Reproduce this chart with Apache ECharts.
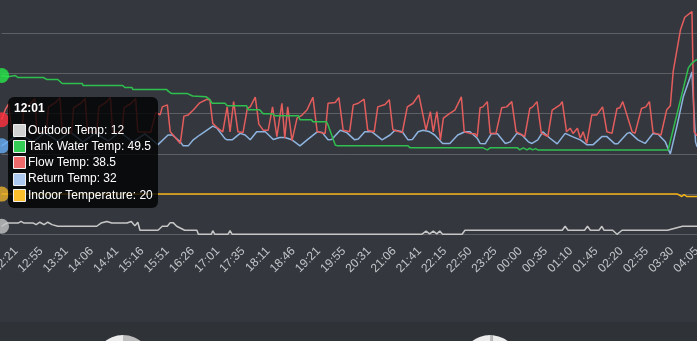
<!DOCTYPE html>
<html>
<head>
<meta charset="utf-8">
<script src="https://cdn.jsdelivr.net/npm/echarts@6.0.0/dist/echarts.min.js"></script>
<style>
  html, body { margin: 0; padding: 0; width: 697px; height: 341px; overflow: hidden;
    background: linear-gradient(#34383e 0, #34383e 322px, #2f3237 322px); }
  #chart { width: 697px; height: 341px; }
</style>
</head>
<body>
<div id="chart"></div>
<script>
// Heating log: one sample per minute starting at 12:01.
const startTime = '12:01';
const firstTickSample = 20;   // sample index of the first labelled tick
const tickStep = 35;          // samples between labelled ticks
const lastSample = 965;

const tickLabels = ['12:21','12:55','13:31','14:06','14:41','15:16','15:51','16:26','17:01','17:35',
  '18:11','18:46','19:21','19:55','20:31','21:06','21:41','22:15','22:50','23:25',
  '00:00','00:35','01:10','01:45','02:20','02:55','03:30','04:05'];

// [sample, °C]
const outdoorTemp = [[0,12],[7,12.8],[23,12.8],[27,13.2],[31,12.8],[44,12.8],[48,12.4],[53,13],[59,12.4],[64,13],
  [70,12.4],[78,12],[132,12],[138,12.8],[146,13.2],[153,12.8],[174,12.8],[180,13.2],[185,12.1],[189,13],
  [192,11],[217,11],[223,12],[230,12],[234,12.9],[238,12.9],[243,12],[254,11],[271,11],[273,10],
  [291,10],[293,10.9],[296,10],[314,10],[317,10.9],[320,10],[583,10],[589,10.8],[594,10.1],[599,10.8],
  [604,10.1],[608,10.8],[612,10],[639,10],[643,11],[778,11],[782,12],[786,11],[809,11],[813,12],
  [817,11],[829,11],[833,12],[836,11],[848,11],[854,10],[861,11],[924,11],[945,12],[965,12]];

const tankTemp = [[0,49.5],[9,49.2],[19,49.5],[23,49],[58,49],[63,48.5],[78,48.5],[84,47.5],[112,47.5],[113,47],
  [168,47],[171,46.5],[181,46.5],[182,46],[229,46],[232,45.5],[236,45],[258,45],[265,44.4],[284,44.2],
  [289,43.5],[292,42.6],[310,42.6],[313,42],[340,42],[342,41],[358,41],[363,40],[376,40],[379,39.5],
  [412,39.5],[414,38.5],[430,38.5],[432,38],[451,38],[453,37.2],[463,32.2],[466,32],[564,32],[567,31.5],
  [668,31.5],[674,31],[678,31.5],[716,31.5],[719,31],[724,31.5],[729,31],[733,31.4],[737,31],[741,31.3],
  [744,31],[925,31],[953,51.4],[958,52.6],[965,53.5]];

const flowTemp = [[0,38.5],[5,41],[10,42.5],[14,35.5],[28,35.3],[31,41.5],[40,42.5],[46,43.8],[49,35.5],[62,35.3],
  [65,41.7],[75,42.8],[81,44],[84,35.5],[97,35.2],[100,41.5],[110,42.6],[116,43.8],[119,35.5],[132,35.3],
  [135,41.7],[145,42.8],[151,44],[154,35.5],[167,35.3],[170,41.5],[180,42.6],[186,43.8],[189,35.5],[207,35.4],
  [214,40.3],[216,40.5],[220,39.7],[223,41.7],[230,42.2],[234,35.5],[238,34.7],[248,32.6],[253,39.4],[259,39.7],
  [266,40.9],[275,42.7],[285,43.6],[289,43.4],[293,37.6],[300,36.4],[307,35.5],[313,41.7],[317,35.5],[322,43],
  [328,35.5],[335,35.3],[341,41.3],[345,41.7],[352,44.1],[357,37.4],[363,35.9],[370,35.9],[376,41.7],[382,34.3],
  [389,42.6],[393,33.9],[397,41.7],[403,33.3],[410,38.9],[416,39.5],[424,41],[432,44.1],[438,35.5],[446,35.2],
  [449,35.1],[453,42.6],[463,42.8],[468,44],[474,35.9],[483,35.5],[488,42.2],[495,42.6],[503,43.6],[508,35.9],
  [517,35.5],[522,41.7],[532,42.3],[538,43.5],[543,36],[556,35.3],[563,41.7],[571,42.6],[579,44.7],[589,35.9],
  [595,40.5],[599,35.5],[604,40.5],[609,33.5],[613,38.9],[622,40.1],[629,40.9],[638,44.2],[642,35.5],[650,35.1],
  [657,35],[660,34.3],[664,41.5],[668,41.7],[674,43],[678,35.1],[686,35.1],[694,41.5],[701,41.7],[708,43],
  [714,35.5],[722,34.8],[726,34.3],[733,41.3],[737,41.7],[743,43],[749,35.2],[758,34.3],[764,40.9],[775,42.2],
  [778,43],[784,35.5],[789,36.4],[793,35.1],[799,36.4],[803,33.9],[807,35.5],[812,32.6],[819,39.7],[826,39.7],
  [834,41.7],[840,35.5],[847,35.1],[854,41.3],[858,41.5],[862,43],[875,35.5],[879,35.1],[888,41.3],[894,41.7],
  [899,43],[904,35.3],[915,34.7],[923,41],[928,42],[932,50.6],[942,60.8],[948,64],[958,65.4],[961,35.5],[965,34.5]];

const returnTemp = [[0,32],[25,35],[44,33],[60,35.3],[78,33.2],[95,35.5],[113,33],[130,35.2],[148,33.2],[164,35.5],
  [182,33],[199,35],[217,32.3],[231,34.7],[237,34.7],[248,33],[252,32],[259,32],[266,33.5],[275,34.7],
  [293,36.9],[299,36.4],[310,33.8],[313,33.5],[320,33.5],[331,35.1],[338,34.7],[345,33.5],[354,35.5],[366,35.5],
  [377,33.6],[386,34.1],[393,34.1],[403,33.5],[414,32],[424,33.5],[438,35.5],[445,35.3],[453,33.5],[458,33.6],
  [470,35.9],[479,35.3],[490,33.5],[495,33.7],[504,35.5],[514,35.5],[528,33.5],[539,34.7],[546,35.9],[556,35.5],
  [564,33.5],[570,33.6],[578,35.5],[585,35.9],[594,35.5],[601,34.7],[612,32.6],[622,32.6],[633,34.7],[643,35.5],
  [650,35.5],[660,33.9],[664,32.6],[671,32.5],[680,35.1],[688,35],[699,32.6],[706,33],[715,35.1],[722,34.7],
  [731,33],[736,32.6],[744,33.5],[751,35.5],[761,33.9],[771,32.5],[782,35.1],[792,34.3],[803,33.5],[812,32.3],
  [821,32.3],[833,34.3],[840,34.3],[851,32.5],[855,32.5],[868,35.1],[872,35.3],[883,33.5],[893,32.6],[904,35.1],
  [911,34.9],[921,33],[928,30],[937,36.8],[946,44.2],[958,50.4],[963,33],[965,31.8]];

const indoorTemp = [[0,20],[938,20],[944,19.4],[947,19.9],[951,19.4],[965,19.4]];

// Share of the two small dials underneath the chart
const dialA = [50, 50];
const dialB = [1.7, 98.3];

const seriesDefs = [
  { name: 'Outdoor Temp',        data: outdoorTemp, line: '#c6c6c6', dot: '#c4c4c4', box: '#d2d2d2' },
  { name: 'Tank Water Temp',     data: tankTemp,    line: '#2fbf4f', dot: '#27e64a', box: '#34cc55' },
  { name: 'Flow Temp',           data: flowTemp,    line: '#e35d5d', dot: '#ff2f3d', box: '#ef6b6b' },
  { name: 'Return Temp',         data: returnTemp,  line: '#8db3de', dot: '#67acf5', box: '#adc9ef' },
  { name: 'Indoor Temperature',  data: indoorTemp,  line: '#f5b316', dot: '#e9b02a', box: '#fbbe2c' }
];

const tickSamples = tickLabels.map((_, k) => firstTickSample + k * tickStep);
const labelAt = {};
tickSamples.forEach((s, k) => { labelAt[s] = tickLabels[k]; });

function clockAt(sample) {
  if (labelAt[sample]) return labelAt[sample];
  const [h, m] = startTime.split(':').map(Number);
  const t = (h * 60 + m + sample) % 1440;
  return String(Math.floor(t / 60)).padStart(2, '0') + ':' + String(t % 60).padStart(2, '0');
}

const font = "'Liberation Sans', Arial, Helvetica, sans-serif";

const lineSeries = seriesDefs.map((d, i) => ({
  type: 'line',
  name: d.name,
  data: d.data,
  z: 10 - i,
  showSymbol: false,
  clip: false,
  silent: true,
  lineStyle: { color: d.line, width: 1.5 },
  itemStyle: { color: d.dot }
}));

// Highlighted readings at the pinned sample
const pinnedSample = 0;
const pinnedPoints = {
  type: 'scatter',
  z: 20,
  clip: false,
  silent: true,
  symbol: 'circle',
  symbolSize: 15,
  data: seriesDefs.map(d => {
    const p = d.data.find(v => v[0] === pinnedSample);
    return { value: p, itemStyle: { color: d.dot } };
  })
};

function dial(center, values) {
  return {
    type: 'pie',
    center: center,
    radius: 29,
    startAngle: 90,
    silent: true,
    label: { show: false },
    labelLine: { show: false },
    emphasis: { disabled: true },
    data: [
      { value: values[0], itemStyle: { color: '#bdbdbd' } },
      { value: values[1], itemStyle: { color: '#ececec' } }
    ]
  };
}

// Readout panel for the pinned sample, drawn above the series
const panelZ = 100;
const rowGap = 16.25;
const firstRowMid = 33.25;
const readoutChildren = [
  { type: 'rect', z: panelZ, shape: { x: 0, y: 0, width: 150, height: 111, r: 6 },
    style: { fill: 'rgba(0,0,0,0.8)' } },
  { type: 'text', z: panelZ + 1, x: 6, y: 11.5,
    style: { text: clockAt(pinnedSample), fill: '#ffffff', font: 'bold 12px ' + font, verticalAlign: 'middle' } }
];
seriesDefs.forEach((d, k) => {
  const mid = firstRowMid + k * rowGap;
  const p = d.data.find(v => v[0] === pinnedSample);
  readoutChildren.push(
    { type: 'rect', z: panelZ + 1, shape: { x: 5.5, y: Math.round(mid - 6.5) + 0.5, width: 12, height: 12 },
      style: { fill: d.box, stroke: '#f0f0f0', lineWidth: 1 } },
    { type: 'text', z: panelZ + 1, x: 20, y: mid,
      style: { text: d.name + ': ' + p[1], fill: '#ffffff', font: '12px ' + font, verticalAlign: 'middle' } }
  );
});
const readout = { type: 'group', x: 8, y: 97, z: panelZ, silent: true, children: readoutChildren };

const chart = echarts.init(document.getElementById('chart'));
chart.setOption({
  animation: false,
  backgroundColor: 'transparent',
  grid: { left: 1.6, right: 0, top: -6.9, bottom: 106.7, containLabel: false, outerBoundsMode: 'none' },
  xAxis: {
    type: 'value', min: 0, max: lastSample,
    axisLine: { show: false }, axisTick: { show: false }, splitLine: { show: false },
    axisLabel: {
      customValues: tickSamples,
      formatter: v => labelAt[v] || '',
      rotate: 45, margin: 15, color: '#c3c5c8', fontSize: 12, fontFamily: font
    }
  },
  yAxis: {
    type: 'value', min: 10, max: 70, interval: 10,
    axisLabel: { show: false }, axisLine: { show: false }, axisTick: { show: false },
    splitLine: { lineStyle: { color: 'rgba(255,255,255,0.2)', width: 1 } }
  },
  graphic: [readout],
  series: lineSeries.concat([pinnedPoints, dial([123, 364], dialA), dial([490, 364], dialB)])
});
</script>
</body>
</html>
